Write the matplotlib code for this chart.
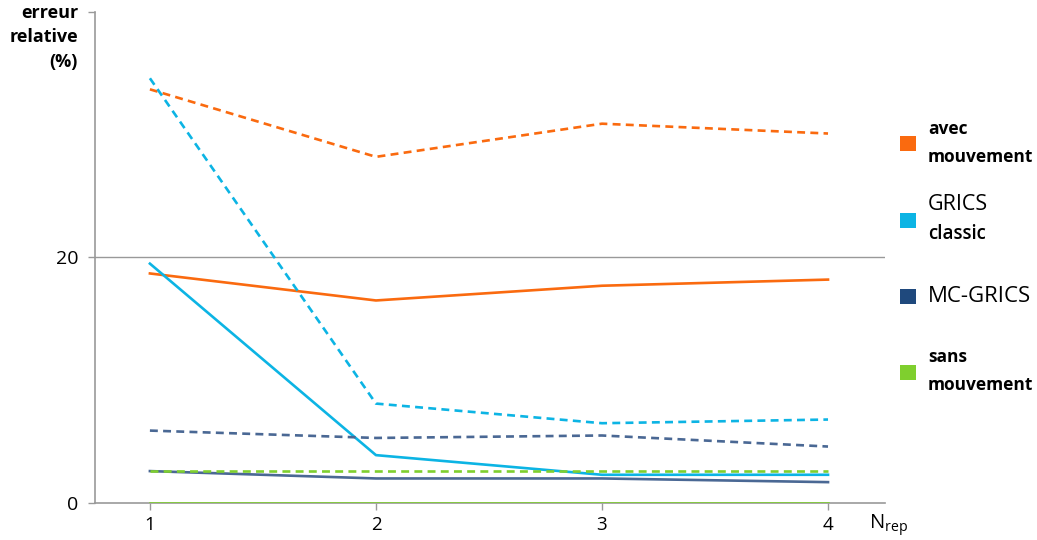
import matplotlib.pyplot as plt
from matplotlib.patches import Rectangle

plt.rcParams['font.family'] = ['Open Sans', 'DejaVu Sans']

# nombre de répétitions
n_rep = [1, 2, 3, 4]

# erreur relative (%) - trait plein / pointillé
avec_mvt_solid = [18.7, 16.5, 17.7, 18.2]
avec_mvt_dash = [33.7, 28.2, 30.9, 30.1]
grics_solid = [19.5, 3.9, 2.3, 2.3]
grics_dash = [34.6, 8.1, 6.5, 6.8]
mcgrics_solid = [2.6, 2.0, 2.0, 1.7]
mcgrics_dash = [5.9, 5.3, 5.5, 4.6]
sans_mvt_solid = [0.0, 0.0, 0.0, 0.0]
sans_mvt_dash = [2.6, 2.6, 2.6, 2.6]

colors = ['#fa6a0f', '#0cb4e4', '#1f497d', '#7fcf2e']
line_colors = ['#fa6a0f', '#0cb4e4', '#4a6894', '#7fcf2e']

fig = plt.figure(figsize=(10.37, 5.4), dpi=100)
ax = fig.add_axes([0.0916, 0.0685, 0.7618, 0.9093])

ax.axhline(20, color='#999999', lw=1.0, zorder=1)

series = [(avec_mvt_solid, avec_mvt_dash),
          (grics_solid, grics_dash),
          (mcgrics_solid, mcgrics_dash),
          (sans_mvt_solid, sans_mvt_dash)]
for (solid, dash), c in zip(series, line_colors):
    ax.plot(n_rep, dash, color=c, lw=1.9, dashes=(3, 2), zorder=3)
    ax.plot(n_rep, solid, color=c, lw=1.9, zorder=3)

ax.set_xlim(0.757, 4.252)
ax.set_ylim(0, 40)
ax.set_xticks(n_rep)
ax.set_yticks([0, 20, 40])
ax.set_yticklabels(['0', '20', ''])
ax.tick_params(axis='both', colors='#999999', labelcolor='black',
               labelsize=13.5, length=5, width=1)
ax.tick_params(axis='y', pad=7, labelsize=14)
ax.tick_params(axis='x', pad=4)
for s in ['top', 'right']:
    ax.spines[s].set_visible(False)
for s in ['left', 'bottom']:
    ax.spines[s].set_color('#999999')
    ax.spines[s].set_linewidth(1.2)

fig.text(78 / 1037, 1 - 4 / 540, 'erreur\nrelative\n(%)', ha='right', va='top',
         fontsize=13, fontweight='bold', linespacing=1.45)
fig.text(869 / 1037, 1 - 512 / 540, r'N$_{\mathregular{rep}}$',
         ha='left', va='top', fontsize=14.5)

# légende
W, H = 1037, 540
sq_y = [143.5, 220.5, 296.5, 372.5]
for c, y in zip(colors, sq_y):
    fig.patches.append(Rectangle((900 / W, 1 - (y + 7.5) / H), 16 / W, 15 / H,
                                 transform=fig.transFigure, facecolor=c,
                                 edgecolor='none'))
tx = 928 / W
fig.text(tx, 1 - 129 / H, 'avec', va='center', fontsize=12.5, fontweight='bold')
fig.text(tx, 1 - 157 / H, 'mouvement', va='center', fontsize=12.5, fontweight='bold')
fig.text(tx, 1 - 205 / H, 'GRICS', va='center', fontsize=15.5)
fig.text(tx, 1 - 234 / H, 'classic', va='center', fontsize=13.5, fontweight='semibold')
fig.text(tx, 1 - 297 / H, 'MC-GRICS', va='center', fontsize=16)
fig.text(tx, 1 - 357 / H, 'sans', va='center', fontsize=12.5, fontweight='bold')
fig.text(tx, 1 - 385 / H, 'mouvement', va='center', fontsize=12.5, fontweight='bold')

fig.savefig('out.png', dpi=100)
